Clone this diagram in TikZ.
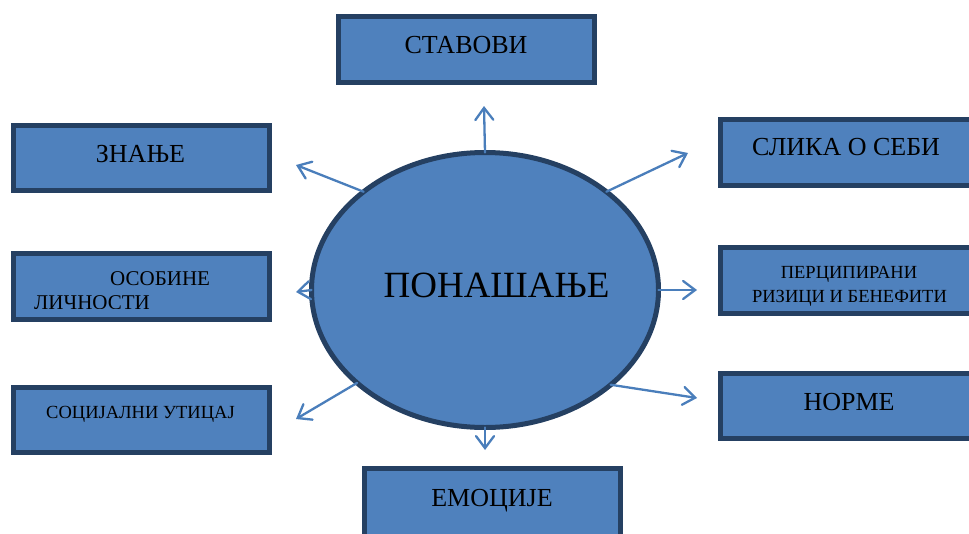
\documentclass[tikz,border=0pt]{standalone}
\usepackage{fontspec}
\setmainfont{Liberation Serif}
\usetikzlibrary{arrows.meta,shapes.geometric}
\definecolor{boxfill}{RGB}{79,129,189}
\definecolor{boxline}{RGB}{37,64,98}
\definecolor{arrowc}{RGB}{74,126,187}
\tikzset{
  box/.style={draw=boxline, fill=boxfill, line width=5pt, rectangle, minimum width=256pt, minimum height=65pt, inner sep=0pt},
  lbl/.style={anchor=base, inner sep=0pt, text=black, font=\fontsize{26}{30}\selectfont},
  lblsmall/.style={lbl, font=\fontsize{18.5}{24}\selectfont},
  arr/.style={draw=arrowc, line width=2.3pt, line cap=round, -{Straight Barb[length=12pt,width=18pt,line cap=round]}},
}
\begin{document}
\begin{tikzpicture}[x=1pt,y=-1pt]
\clip (0,0) rectangle (969,533);
% boxes
\node[box, minimum height=66pt] (stavovi) at (466.5,49.5) {};
\node[box] (znanje) at (141,158) {};
\node[box, minimum height=66pt] (osobine) at (141,286.5) {};
\node[box] (soc) at (141,420) {};
\node[box, minimum width=280pt, minimum height=66pt] (slika) at (860.5,152.5) {};
\node[box, minimum width=280pt, minimum height=66pt] (percip) at (860.5,280.5) {};
\node[box, minimum width=280pt] (norme) at (860.5,406) {};
\node[box, minimum height=70pt] (emocije) at (492.5,503.5) {};
% labels
\node[lbl] (tstavovi) at (466,53) {СТАВОВИ};
\node[lbl] (tznanje) at (140.5,162) {ЗНАЊЕ};
\node[lbl, font=\fontsize{21}{23}\selectfont, anchor=base west] (tosob1) at (110,285) {ОСОБИНЕ};
\begin{scope}
\clip (0,0) rectangle (969,308.5);
\node[lbl, font=\fontsize{21}{23}\selectfont, anchor=base west] (tosob2) at (34,309) {ЛИЧНОСТИ};
\end{scope}
\node[lblsmall] (tsoc) at (140.5,418) {СОЦИЈАЛНИ УТИЦАЈ};
\node[lbl] (tslika) at (846,155) {СЛИКА О СЕБИ};
\node[lblsmall] (tper1) at (849,278) {ПЕРЦИПИРАНИ};
\node[lblsmall] (tper2) at (849.5,302) {РИЗИЦИ И БЕНЕФИТИ};
\node[lbl] (tnorme) at (849,410) {НОРМЕ};
\node[lbl] (temoc) at (492,506) {ЕМОЦИЈЕ};
% ellipse
\node[ellipse, draw=boxline, fill=boxfill, line width=5pt, minimum width=347pt, minimum height=275pt, inner sep=0pt, outer sep=0pt] (beh) at (485,290) {};
\node[lbl, font=\fontsize{37}{40}\selectfont] (tbeh) at (496.5,297) {ПОНАШАЊЕ};
% arrow tips
\coordinate (t1) at (484,106);
\coordinate (t2) at (296,165);
\coordinate (t3) at (296,292);
\coordinate (t4) at (296,419);
\coordinate (t5) at (688,153);
\coordinate (t6) at (697,290);
\coordinate (t7) at (697,398);
\coordinate (t8) at (485,450);
\draw[arr] (beh.90) -- (t1);
\draw[arr] (beh.141.7) -- (t2);
\draw[arr] (beh.180) -- (t3);
\draw[arr] (beh.216.9) -- (t4);
\draw[arr] (beh.39.1) -- (t5);
\draw[arr] (beh.0) -- (t6);
\draw[arr] (beh.323.6) -- (t7);
\draw[arr] (beh.270) -- (t8);
\end{tikzpicture}
\end{document}
